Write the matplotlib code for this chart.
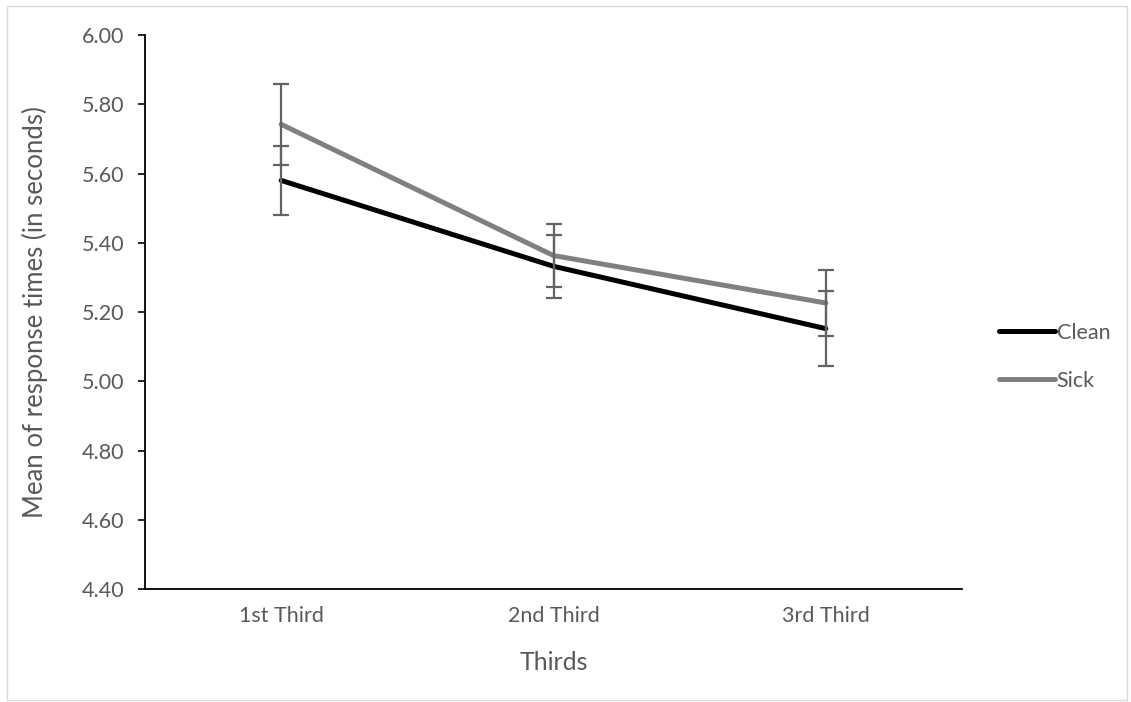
import matplotlib
matplotlib.use("Agg")
import matplotlib.pyplot as plt
from matplotlib.patches import Rectangle
from matplotlib.lines import Line2D

categories = ["1st Third", "2nd Third", "3rd Third"]
clean_means = [5.58, 5.332, 5.152]
clean_err = [0.10, 0.091, 0.108]
sick_means = [5.742, 5.363, 5.226]
sick_err = [0.117, 0.09, 0.094]
yticks = [4.40, 4.60, 4.80, 5.00, 5.20, 5.40, 5.60, 5.80, 6.00]

plt.rcParams['font.family'] = ['Lato', 'DejaVu Sans']
txt = '#595959'

fig = plt.figure(figsize=(11.31, 7.02), dpi=100)
W, H = 1131, 702
left, right, top, bottom = 145, 962, 35, 589
ax = fig.add_axes([left / W, 1 - bottom / H, (right - left) / W, (bottom - top) / H])

x = list(range(len(categories)))
ax.plot(x, clean_means, color='black', lw=3.6, solid_capstyle='round', zorder=3, label='Clean')
ax.plot(x, sick_means, color='#808080', lw=3.6, solid_capstyle='round', zorder=3, label='Sick')
ax.errorbar(x, clean_means, yerr=clean_err, fmt='none', ecolor='#636363', elinewidth=1.6,
            capsize=6, capthick=1.6, zorder=4)
ax.errorbar(x, sick_means, yerr=sick_err, fmt='none', ecolor='#636363', elinewidth=1.6,
            capsize=6, capthick=1.6, zorder=4)

ax.set_xlim(-0.5, 2.5)
ax.set_ylim(4.40, 6.00)
ax.set_yticks(yticks)
ax.set_yticklabels([f"{v:.2f}" for v in yticks], fontsize=15.5, color=txt)
ax.set_xticks(x)
ax.set_xticklabels(categories, fontsize=15.5, color=txt)
ax.tick_params(axis='x', length=0, pad=12)
ax.tick_params(axis='y', length=5, width=1.2, color='black', direction='out', pad=10)

for s in ['top', 'right']:
    ax.spines[s].set_visible(False)
for s in ['left', 'bottom']:
    ax.spines[s].set_color('black')
    ax.spines[s].set_linewidth(1.3)

ax.set_xlabel("Thirds", fontsize=18, color=txt, labelpad=18)
ax.set_ylabel("Mean of response times (in seconds)", fontsize=18.5, color=txt, labelpad=24)

handles = [Line2D([], [], color='black', lw=3.6, solid_capstyle='round'),
           Line2D([], [], color='#808080', lw=3.6, solid_capstyle='round')]
fig.legend(handles, ['Clean', 'Sick'], loc='center left', bbox_to_anchor=(990 / W, 1 - 357 / H),
           frameon=False, fontsize=15.5, labelcolor=txt, handlelength=2.6, handletextpad=0.1,
           labelspacing=1.3, borderaxespad=0)

fig.patches.append(Rectangle((7 / W, 1 - 700 / H), (1127 - 7) / W, (700 - 6) / H,
                             transform=fig.transFigure, fill=False, edgecolor='#d9d9d9', lw=1))

fig.savefig("out.png", dpi=100)
